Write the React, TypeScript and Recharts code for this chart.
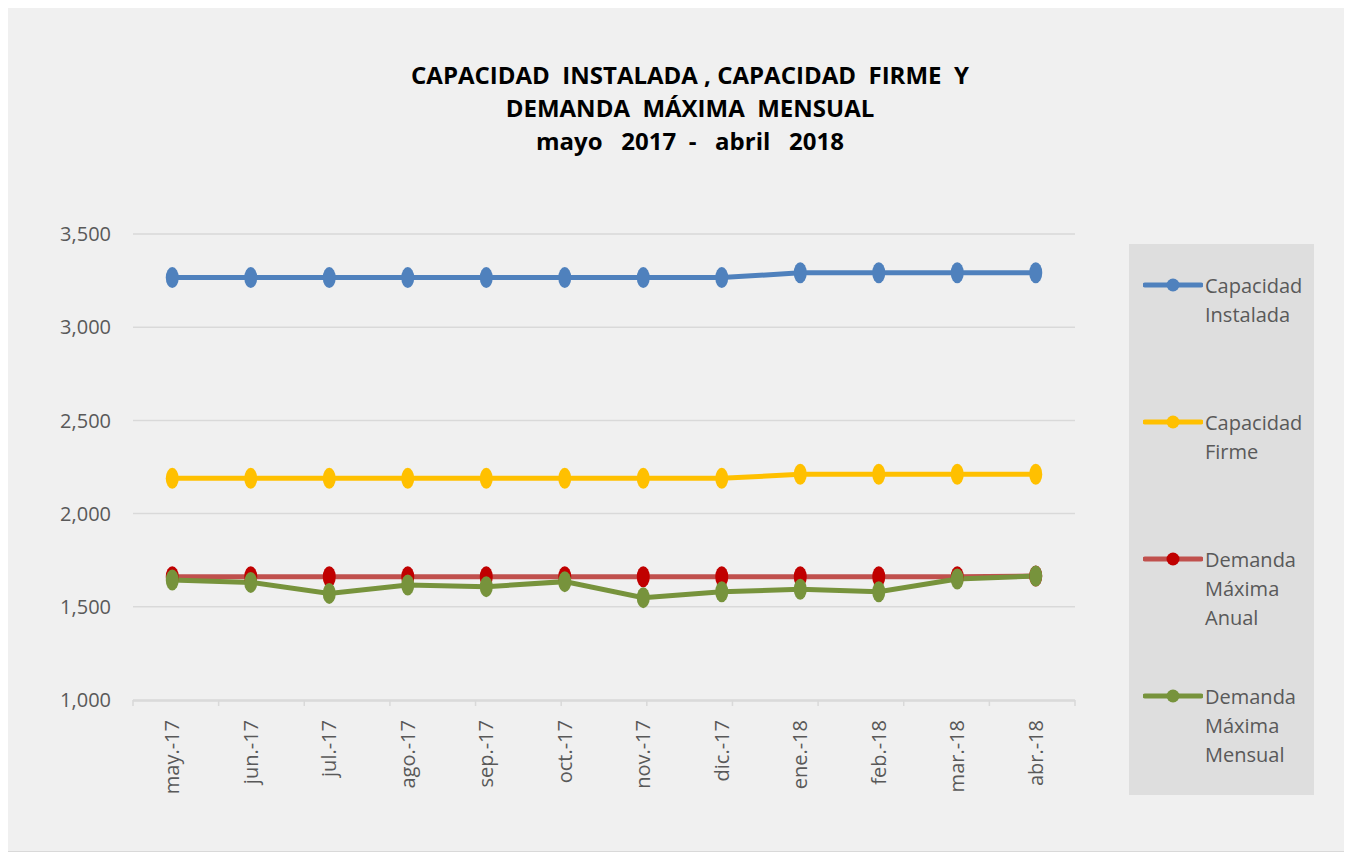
import React from 'react';
import { LineChart, Line, XAxis, YAxis, CartesianGrid } from 'recharts';

const months = ['may.-17', 'jun.-17', 'jul.-17', 'ago.-17', 'sep.-17', 'oct.-17', 'nov.-17', 'dic.-17', 'ene.-18', 'feb.-18', 'mar.-18', 'abr.-18'];
const capacidadInstalada = [3266, 3266, 3266, 3266, 3266, 3266, 3266, 3266, 3292, 3292, 3292, 3292];
const capacidadFirme = [2189, 2189, 2189, 2189, 2189, 2189, 2189, 2189, 2211, 2211, 2211, 2211];
const demandaAnual = [1661, 1661, 1661, 1661, 1661, 1661, 1661, 1661, 1661, 1661, 1661, 1665];
const demandaMensual = [1644, 1631, 1572, 1617, 1608, 1635, 1549, 1581, 1594, 1581, 1649, 1665];
const yTicks = [1000, 1500, 2000, 2500, 3000, 3500];
const boundaryTicks = [0, 1, 2, 3, 4, 5, 6, 7, 8, 9, 10, 11, 12];

const data = months.map((m, i) => ({
  month: m,
  inst: capacidadInstalada[i],
  firme: capacidadFirme[i],
  anual: demandaAnual[i],
  mensual: demandaMensual[i],
}));

const series = [
  { key: 'inst', line: '#4f81bd', dot: '#4f81bd', label: ['Capacidad', 'Instalada'] },
  { key: 'firme', line: '#ffc000', dot: '#ffc000', label: ['Capacidad', 'Firme'] },
  { key: 'anual', line: '#c0504d', dot: '#c00000', label: ['Demanda', 'Máxima', 'Anual'] },
  { key: 'mensual', line: '#77933c', dot: '#77933c', label: ['Demanda', 'Máxima', 'Mensual'] },
];

const FONT = '"Open Sans", sans-serif';
const TEXT = '#595959';

function dotFor(fill: string) {
  return (props: any) => {
    const { cx, cy, index } = props;
    if (cx == null || cy == null) return <g key={index} />;
    return <ellipse key={index} cx={cx} cy={cy} rx={6.5} ry={10.5} fill={fill} />;
  };
}

function MonthTick({ x, y, payload }: any) {
  return (
    <g transform={`translate(${x},${y})`}>
      <text transform="rotate(-90)" textAnchor="end" dy="0.35em" fill={TEXT} fontSize={20} fontFamily={FONT}>
        {payload.value}
      </text>
    </g>
  );
}

export default function App() {
  return (
    <div style={{ position: 'relative', marginLeft: -2, marginTop: -1, width: 1341, height: 843, border: '1px solid #d9d9d9', background: '#f0f0f0', fontFamily: FONT }}>
      <div style={{ position: 'absolute', left: 0, top: 50, width: 1366, textAlign: 'center', fontWeight: 700, fontSize: 24, lineHeight: '33px', color: '#000', whiteSpace: 'pre' }}>
        <div>{'CAPACIDAD  INSTALADA , CAPACIDAD  FIRME  Y'}</div>
        <div>{'DEMANDA  MÁXIMA  MENSUAL'}</div>
        <div>{'mayo   2017  -   abril   2018'}</div>
      </div>
      <LineChart width={1341} height={843} data={data} margin={{ top: 226, right: 273, bottom: 41, left: 0 }}>
        <CartesianGrid vertical={false} stroke="#d9d9d9" strokeWidth={1.5} />
        <XAxis xAxisId="bnd" type="number" domain={[0, 12]} ticks={boundaryTicks} height={1} axisLine={false} tickLine={{ stroke: '#d9d9d9', strokeWidth: 1.5 }} tickSize={6} tick={() => <g />} allowDataOverflow />
        <XAxis xAxisId="cat" dataKey="month" scale="band" height={109} axisLine={{ stroke: '#d9d9d9', strokeWidth: 1.5 }} tickLine={false} tickMargin={13} tick={<MonthTick />} interval={0} />
        <YAxis domain={[1000, 3500]} ticks={yTicks} width={126} axisLine={false} tickLine={false} tickMargin={16} tickFormatter={(v: number) => v.toLocaleString('en-US')} tick={{ fill: TEXT, fontSize: 20, fontFamily: FONT }} />
        {series.map((s) => (
          <Line key={s.key} xAxisId="cat" type="linear" dataKey={s.key} stroke={s.line} strokeWidth={5} dot={dotFor(s.dot)} activeDot={false} isAnimationActive={false} />
        ))}
      </LineChart>
      <div style={{ position: 'absolute', left: 1122, top: 236, width: 185, height: 551, background: '#dedede' }}>
        {series.map((s, i) => (
          <div key={s.key} style={{ position: 'absolute', left: 0, top: 27 + i * 137, width: 185 }}>
            <svg width={60} height={28} style={{ position: 'absolute', left: 14, top: 0 }}>
              <line x1={2} y1={14} x2={58} y2={14} stroke={s.line} strokeWidth={5} strokeLinecap="round" />
              <circle cx={30} cy={14} r={6.5} fill={s.dot} />
            </svg>
            <div style={{ position: 'absolute', left: 76, top: 0, fontSize: 20, lineHeight: '29px', color: TEXT }}>
              {s.label.map((l) => (
                <div key={l}>{l}</div>
              ))}
            </div>
          </div>
        ))}
      </div>
    </div>
  );
}
